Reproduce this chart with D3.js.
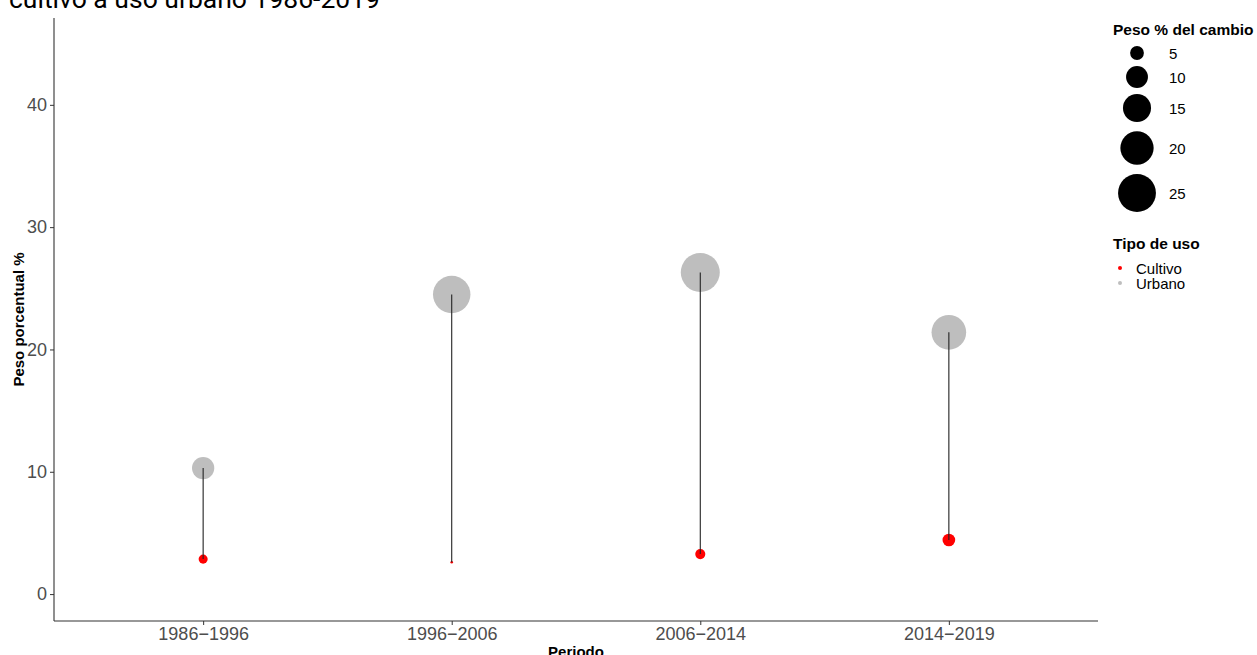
<!DOCTYPE html>
<html>
<head>
<meta charset="utf-8">
<script src="https://cdn.jsdelivr.net/npm/d3@7"></script>
<style>
  html, body { margin: 0; padding: 0; background: #fff; }
  svg { display: block; }
</style>
</head>
<body>
<svg id="chart" width="1257" height="655"></svg>
<script>
// Periods on the x axis
const periodos = ["1986\u22121996", "1996\u22122006", "2006\u22122014", "2014\u22122019"];
// Percent weight of each land use per period (y position)
const cultivo = [2.86, 2.6, 3.27, 4.42];
const urbano  = [10.3, 24.5, 26.3, 21.4];
// Percent weight of the change (point size)
const pesoCultivo = [2.86, 0.9, 3.27, 4.42];
const pesoUrbano  = [10.3, 24.5, 26.3, 21.4];
// Tick labels
const yTicks = [0, 10, 20, 30, 40];
const sizeBreaks = [5, 10, 15, 20, 25];
const tipos = ["Cultivo", "Urbano"];
const colores = { Cultivo: "#FF0000", Urbano: "#BEBEBE" };

const svg = d3.select("#chart");
const panel = { left: 54, right: 1098, top: 18, bottom: 621 };
const font = "'Liberation Sans', Arial, sans-serif";

const x = d3.scalePoint().domain(periodos).range([panel.left, panel.right]).padding(0.6);
const y = d3.scaleLinear().domain([-2.2, 47.1]).range([panel.bottom, panel.top]);
const allPeso = pesoCultivo.concat(pesoUrbano);
const r = d3.scalePow().exponent(0.5).domain(d3.extent(allPeso)).range([1.3, 19.5]);

// Title (second line)
svg.append("text")
  .attr("x", 9).attr("y", 8)
  .attr("font-family", "Roboto, 'Noto Sans', sans-serif")
  .attr("font-size", 26.5)
  .attr("fill", "#000")
  .text("cultivo a uso urbano 1986-2019");

const rows = periodos.map((p, i) => ({
  periodo: p, cultivo: cultivo[i], urbano: urbano[i],
  pesoC: pesoCultivo[i], pesoU: pesoUrbano[i]
}));

// Urban points
svg.append("g").selectAll("circle").data(rows).join("circle")
  .attr("cx", d => x(d.periodo)).attr("cy", d => y(d.urbano))
  .attr("r", d => r(d.pesoU)).attr("fill", colores.Urbano);

// Crop points
svg.append("g").selectAll("circle").data(rows).join("circle")
  .attr("cx", d => x(d.periodo)).attr("cy", d => y(d.cultivo))
  .attr("r", d => r(d.pesoC)).attr("fill", colores.Cultivo);

// Segments joining both uses
svg.append("g").selectAll("line").data(rows).join("line")
  .attr("x1", d => x(d.periodo)).attr("x2", d => x(d.periodo))
  .attr("y1", d => y(d.cultivo)).attr("y2", d => y(d.urbano))
  .attr("stroke", "#222").attr("stroke-width", 1.1);

// Axes
const axisColor = "#333";
const yAxis = svg.append("g").attr("transform", `translate(${panel.left},0)`)
  .call(d3.axisLeft(y).tickValues(yTicks).tickSize(4).tickPadding(3));
yAxis.select(".domain").attr("d", `M0,${panel.top}V${panel.bottom}`).attr("stroke", axisColor).attr("stroke-width", 1.1);
yAxis.selectAll(".tick line").attr("stroke", axisColor);
yAxis.selectAll(".tick text").attr("fill", "#4D4D4D").attr("font-size", 18).attr("font-family", font);

const xAxis = svg.append("g").attr("transform", `translate(0,${panel.bottom})`)
  .call(d3.axisBottom(x).tickSize(4).tickPadding(2));
xAxis.select(".domain").attr("d", `M${panel.left},0H${panel.right}`).attr("stroke", axisColor).attr("stroke-width", 1.1);
xAxis.selectAll(".tick line").attr("stroke", axisColor);
xAxis.selectAll(".tick text").attr("fill", "#4D4D4D").attr("font-size", 18).attr("font-family", font);

// Axis titles
svg.append("text")
  .attr("x", (panel.left + panel.right) / 2).attr("y", 657)
  .attr("text-anchor", "middle").attr("font-family", font)
  .attr("font-weight", "bold").attr("font-size", 15).text("Periodo");
svg.append("text")
  .attr("transform", `translate(24,${(panel.top + panel.bottom) / 2}) rotate(-90)`)
  .attr("text-anchor", "middle").attr("font-family", font)
  .attr("font-weight", "bold").attr("font-size", 15).text("Peso porcentual %");

// Size legend
const leg = svg.append("g").attr("font-family", font);
leg.append("text").attr("x", 1113).attr("y", 35)
  .attr("font-weight", "bold").attr("font-size", 15.5).text("Peso % del cambio");
const sizeY = [53, 77, 108, 148, 193];
sizeBreaks.forEach((b, i) => {
  leg.append("circle").attr("cx", 1137).attr("cy", sizeY[i]).attr("r", r(b)).attr("fill", "#000");
  leg.append("text").attr("x", 1169).attr("y", sizeY[i] + 5.5)
    .attr("font-size", 15).attr("fill", "#000").text(b);
});

// Colour legend
leg.append("text").attr("x", 1113).attr("y", 249)
  .attr("font-weight", "bold").attr("font-size", 15.5).text("Tipo de uso");
const tipoY = [268, 283];
tipos.forEach((t, i) => {
  leg.append("circle").attr("cx", 1120).attr("cy", tipoY[i]).attr("r", 2).attr("fill", colores[t]);
  leg.append("text").attr("x", 1136).attr("y", tipoY[i] + 5.5)
    .attr("font-size", 15).attr("fill", "#000").text(t);
});
</script>
</body>
</html>
